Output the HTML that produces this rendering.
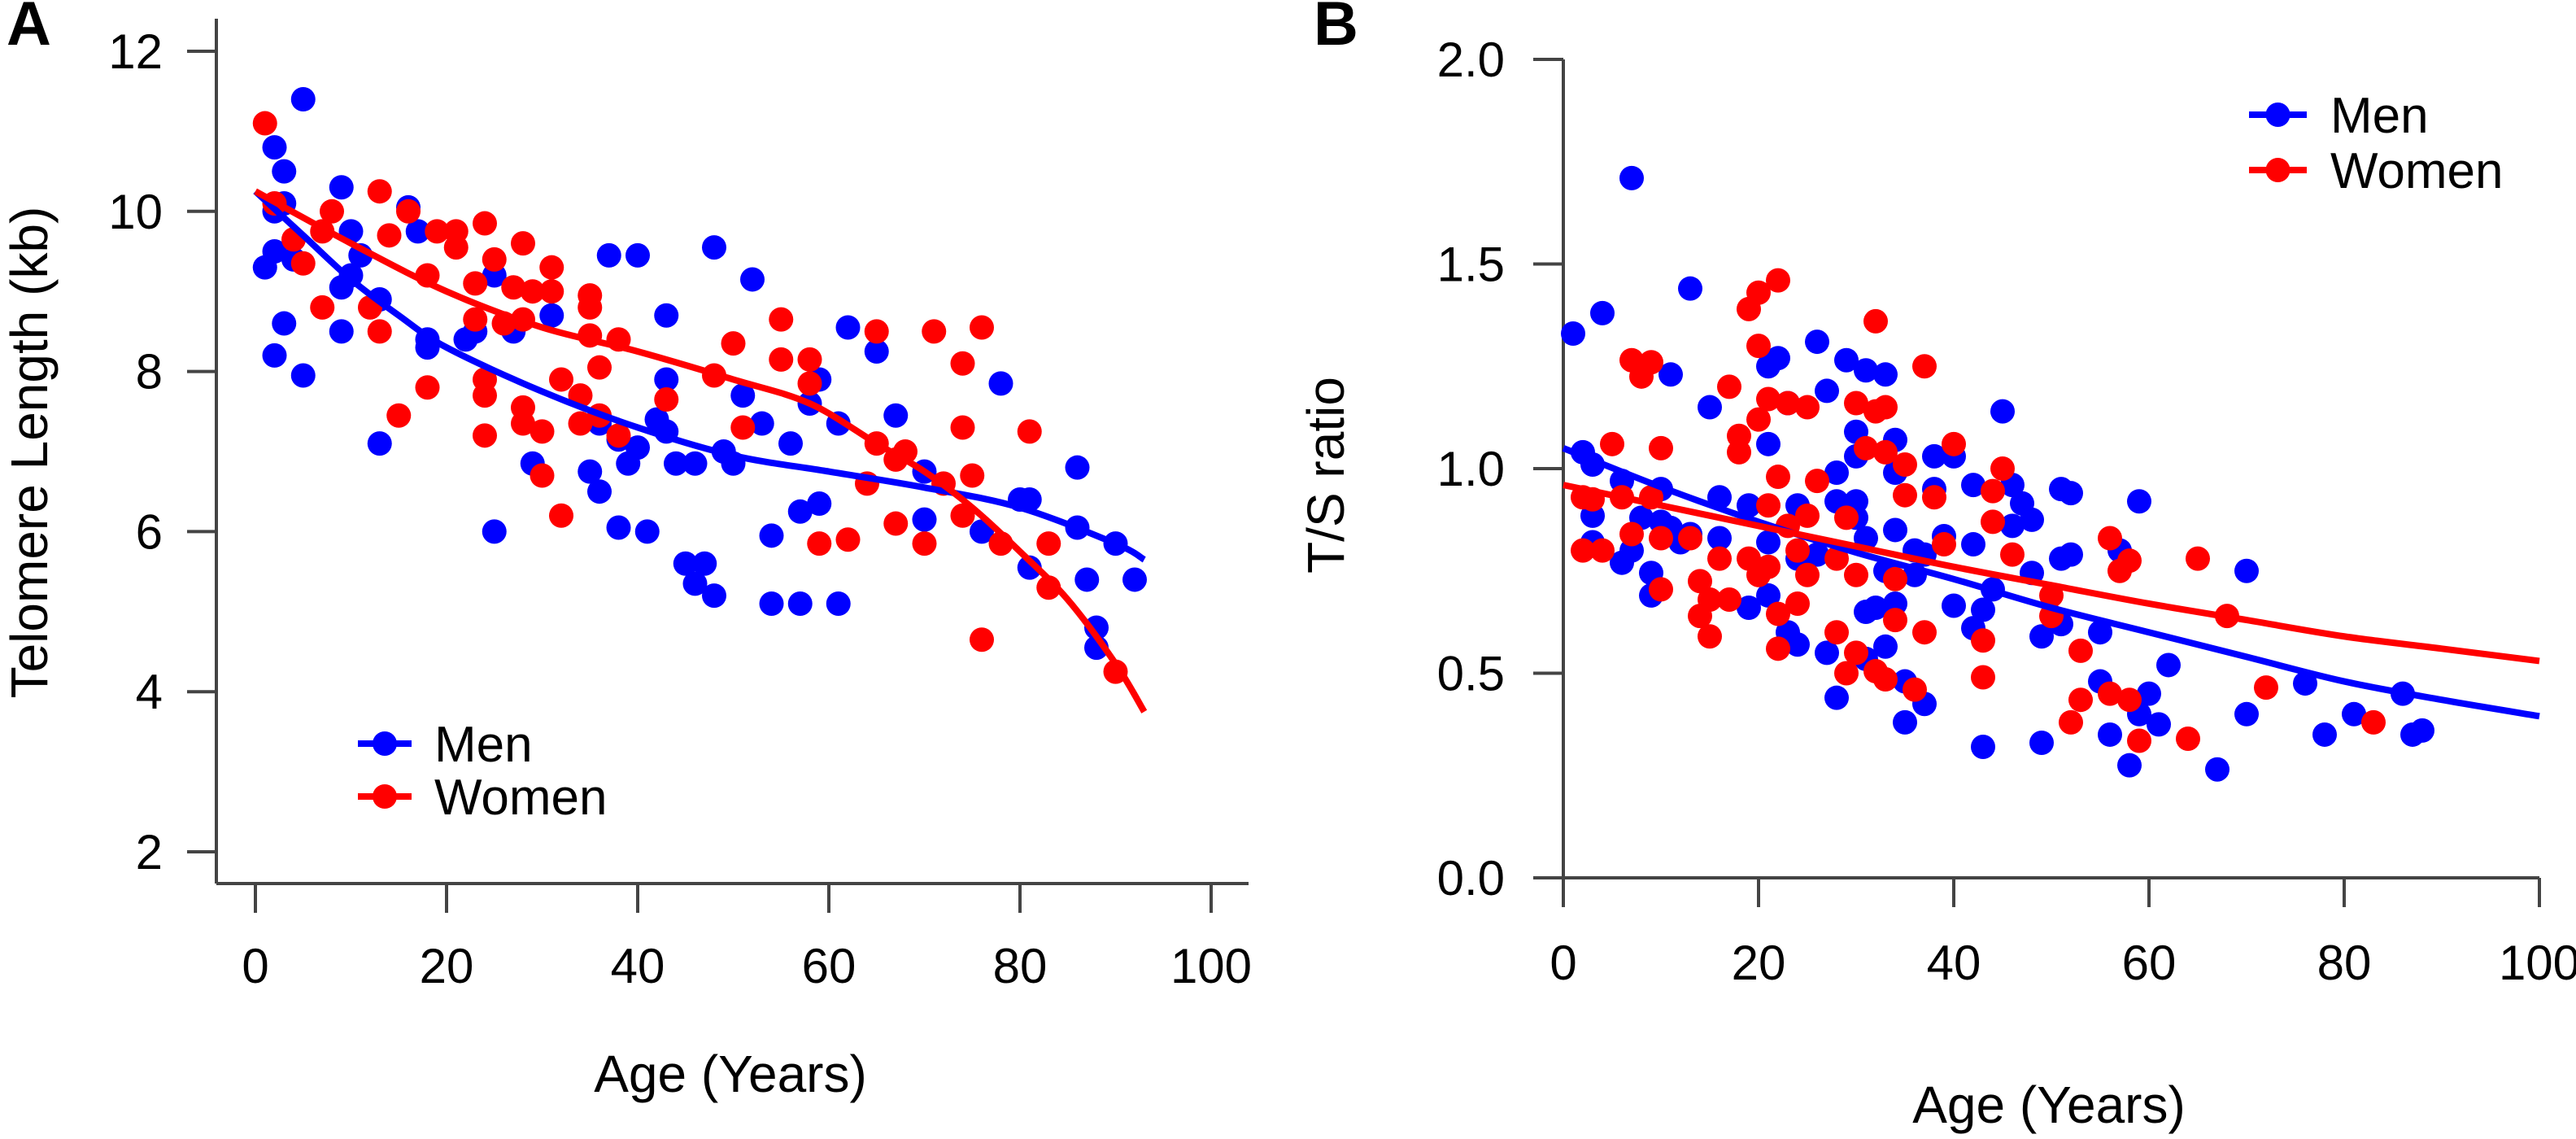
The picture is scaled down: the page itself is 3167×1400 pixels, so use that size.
<!DOCTYPE html>
<html><head><meta charset="utf-8"><style>
html,body{margin:0;padding:0;background:#fff;}
svg{display:block;font-family:"Liberation Sans",Arial,sans-serif;}
</style></head><body>
<svg id="fig" width="3167" height="1400" viewBox="0 0 3167 1400" xmlns="http://www.w3.org/2000/svg">
<rect width="3167" height="1400" fill="#fff"/>
<g id="panelA"></g>
<g id="panelB"></g>
</svg>
<script>
// ---- Panel A data ----
const aXTicks = [0,20,40,60,80,100];
const aYTicks = [2,4,6,8,10,12];
const aMenAge = [1,2,2,2,2,3,3,3,4,5,5,9,9,9,10,11,10,13,13,16,17,18,18,22,23,25,25,27,29,31,35,36,36,37,38,38,39,40,40,41,42,43,43,43,44,45,46,46,47,48,48,49,50,51,52,53,54,54,56,57,57,58,59,59,61,61,62,65,67,70,70,76,78,80,81,81,86,86,87,88,88,90,92];
const aMenTL = [9.3,8.2,10.0,9.5,10.8,10.5,10.1,8.6,9.4,11.4,7.95,10.3,9.05,8.5,9.75,9.45,9.2,7.1,8.9,10.05,9.75,8.4,8.3,8.4,8.5,6.0,9.2,8.5,6.85,8.7,6.75,6.5,7.35,9.45,6.05,7.15,6.85,9.45,7.05,6.0,7.4,7.25,8.7,7.9,6.85,5.6,5.35,6.85,5.6,9.55,5.2,7.0,6.85,7.7,9.15,7.35,5.95,5.1,7.1,6.25,5.1,7.6,6.35,7.9,7.35,5.1,8.55,8.25,7.45,6.75,6.15,6.0,7.85,6.4,6.4,5.55,6.8,6.05,5.4,4.8,4.55,5.85,5.4];
const aWomenAge = [1,2,4,5,7,7,8,12,13,13,14,15,16,18,18,19,21,21,23,23,24,24,24,24,25,26,27,28,28,28,28,29,30,30,31,31,32,32,34,34,35,35,35,36,36,38,38,43,48,50,51,55,55,58,58,59,62,64,65,65,67,67,68,70,71,72,74,74,74,75,76,76,78,81,83,83,90];
const aWomenTL = [11.1,10.1,9.65,9.35,8.8,9.75,10.0,8.8,10.25,8.5,9.7,7.45,10.0,9.2,7.8,9.75,9.75,9.55,9.1,8.65,9.85,7.9,7.7,7.2,9.4,8.6,9.05,9.6,8.65,7.55,7.35,9.0,7.25,6.7,9.3,9.0,7.9,6.2,7.7,7.35,8.95,8.8,8.45,8.05,7.45,8.4,7.2,7.65,7.95,8.35,7.3,8.65,8.15,8.15,7.85,5.85,5.9,6.6,8.5,7.1,6.9,6.1,7.0,5.85,8.5,6.6,8.1,7.3,6.2,6.7,8.55,4.65,5.85,7.25,5.85,5.3,4.25];
const aMenFitAge = [0,5,10,15,20,30,40,50,60,70,80,90,93];
const aMenFitTL = [10.25,9.7,9.15,8.7,8.3,7.75,7.3,6.95,6.75,6.55,6.3,5.85,5.65];
const aWomenFitAge = [0,10,20,30,40,50,58,65,70,75,80,85,90,93];
const aWomenFitTL = [10.25,9.6,9.0,8.55,8.25,7.9,7.6,7.1,6.75,6.3,5.75,5.15,4.35,3.75];

// ---- Panel B data ----
const bXTicks = [0,20,40,60,80,100];
const bYTicks = [0.0,0.5,1.0,1.5,2.0];
const bMenAge = [1,2,3,3,3,4,6,6,7,7,8,9,9,10,10,11,11,12,13,13,15,16,16,19,19,21,21,21,21,22,23,23,24,24,24,26,26,27,27,28,28,28,29,30,30,30,30,31,31,31,31,32,33,33,33,34,34,34,34,35,35,36,36,37,37,38,38,39,40,40,42,42,42,43,43,44,45,46,46,47,48,48,49,49,51,51,51,52,52,55,55,56,57,58,59,59,60,61,62,67,70,70,76,78,81,86,87,88];
const bMenTS = [1.33,1.04,1.01,0.885,0.82,1.38,0.77,0.97,1.71,0.8,0.88,0.745,0.69,0.95,0.87,1.23,0.855,0.82,1.44,0.84,1.15,0.93,0.83,0.91,0.66,1.06,1.25,0.82,0.69,1.27,1.16,0.6,0.91,0.78,0.57,1.31,0.79,1.19,0.55,0.99,0.92,0.44,1.265,1.09,1.03,0.92,0.88,1.24,0.83,0.65,0.535,0.66,1.23,0.565,0.75,1.07,0.99,0.85,0.67,0.48,0.38,0.8,0.74,0.425,0.79,1.03,0.95,0.835,1.03,0.665,0.96,0.815,0.61,0.32,0.655,0.705,1.14,0.96,0.86,0.915,0.875,0.745,0.59,0.33,0.95,0.78,0.62,0.94,0.79,0.6,0.48,0.35,0.8,0.275,0.92,0.4,0.45,0.375,0.52,0.265,0.4,0.75,0.475,0.35,0.4,0.45,0.35,0.36];
const bWomenAge = [2,2,3,4,5,6,7,7,8,9,9,10,10,10,13,14,14,15,15,16,17,17,18,18,19,19,20,20,20,20,21,21,21,22,22,22,22,23,23,24,24,25,25,25,26,28,28,29,29,30,30,30,31,32,32,32,33,33,33,34,34,35,35,36,37,37,38,39,40,43,43,44,44,45,46,50,50,52,53,53,56,56,57,58,58,59,64,65,68,72,83];
const bWomenTS = [0.8,0.93,0.925,0.8,1.06,0.93,1.265,0.84,1.225,1.26,0.93,1.05,0.705,0.83,0.83,0.725,0.64,0.59,0.68,0.78,1.2,0.68,1.08,1.04,1.39,0.78,1.43,1.3,1.12,0.74,1.17,0.91,0.76,1.46,0.98,0.56,0.645,1.16,0.86,0.67,0.8,1.15,0.74,0.885,0.97,0.78,0.6,0.5,0.88,0.55,1.16,0.74,1.05,1.36,1.14,0.505,1.15,0.485,1.04,0.73,0.63,0.935,1.01,0.46,1.25,0.6,0.93,0.815,1.06,0.58,0.49,0.945,0.87,1.0,0.79,0.69,0.64,0.38,0.435,0.555,0.83,0.45,0.75,0.775,0.435,0.335,0.34,0.78,0.64,0.465,0.38];
const bMenFitAge = [0,10,20,30,40,50,60,70,80,90,100];
const bMenFitTS = [1.05,0.955,0.87,0.795,0.73,0.66,0.6,0.54,0.48,0.435,0.395];
const bWomenFitAge = [0,10,20,30,40,50,60,70,80,90,100];
const bWomenFitTS = [0.96,0.91,0.86,0.81,0.76,0.715,0.67,0.63,0.59,0.56,0.53];

const NS = 'http://www.w3.org/2000/svg';
const BLUE = '#0000ff', RED = '#ff0000', AX = '#444';
function mk(parent, tag, attrs) {
  const e = document.createElementNS(NS, tag);
  for (const k in attrs) e.setAttribute(k, attrs[k]);
  parent.appendChild(e);
  return e;
}
function txt(parent, x, y, s, size, anchor, extra) {
  const t = mk(parent, 'text', {x: x, y: y, 'font-size': size, 'text-anchor': anchor, fill: '#000'});
  if (extra) for (const k in extra) t.setAttribute(k, extra[k]);
  t.textContent = s;
  return t;
}

// scales
const axA = v => 314 + (v - 0) * (1489 - 314) / 100;
const ayA = v => 63 + (12 - v) * (1047 - 63) / 10;
const axB = v => 1922 + v * (3122 - 1922) / 100;
const ayB = v => 1079 - v * (1079 - 73) / 2;

function drawPanel(g, sx, sy, xt, yt, xFmt, yFmt, axis) {
  // axes
  const ya = mk(g, 'line', {x1: axis.yx, y1: axis.yTop, x2: axis.yx, y2: axis.yBot, stroke: AX, 'stroke-width': 4});
  
  
  const xa = mk(g, 'line', {x1: axis.xL, y1: axis.xy, x2: axis.xR, y2: axis.xy, stroke: AX, 'stroke-width': 4});
  
  
  xt.forEach(v => {
    const x = sx(v);
    const tk = mk(g, 'line', {x1: x, y1: axis.xTickY0, x2: x, y2: axis.xTickY1, stroke: AX, 'stroke-width': 4});
    
    
    const l = txt(g, x, axis.xLabY, xFmt(v), 60, 'middle');
    
    
  });
  yt.forEach(v => {
    const y = sy(v);
    const tk = mk(g, 'line', {x1: axis.yTickX0, y1: y, x2: axis.yTickX1, y2: y, stroke: AX, 'stroke-width': 4});
    
    
    const l = txt(g, axis.yLabX, y + 21, yFmt(v), 60, 'end');
    
    
  });
}
function dots(g, sx, sy, xs, ys, col, name) {
  xs.forEach((a, i) => {
    const c = mk(g, 'circle', {cx: sx(a), cy: sy(ys[i]), r: 15, fill: col});
    
    
  });
}
function curve(g, sx, sy, xs, ys, col, name) {
  // Catmull-Rom smooth path
  const P = xs.map((a, i) => [sx(a), sy(ys[i])]);
  let d = 'M' + P[0][0] + ' ' + P[0][1];
  for (let i = 0; i < P.length - 1; i++) {
    const p0 = P[Math.max(0, i - 1)], p1 = P[i], p2 = P[i + 1], p3 = P[Math.min(P.length - 1, i + 2)];
    const c1x = p1[0] + (p2[0] - p0[0]) / 6, c1y = p1[1] + (p2[1] - p0[1]) / 6;
    const c2x = p2[0] - (p3[0] - p1[0]) / 6, c2y = p2[1] - (p3[1] - p1[1]) / 6;
    d += ' C' + c1x + ' ' + c1y + ' ' + c2x + ' ' + c2y + ' ' + p2[0] + ' ' + p2[1];
  }
  const p = mk(g, 'path', {d: d, fill: 'none', stroke: col, 'stroke-width': 8});
  
  
}
function legend(g, x0, x1, yMen, yWomen, tx) {
  [[yMen, BLUE, 'Men', 'legend-entry-men'], [yWomen, RED, 'Women', 'legend-entry-women']].forEach(r => {
    const lg = mk(g, 'g', {});
    
    
    mk(lg, 'line', {x1: x0, y1: r[0], x2: x1, y2: r[0], stroke: r[1], 'stroke-width': 8});
    mk(lg, 'circle', {cx: (x0 + x1) / 2, cy: r[0], r: 15, fill: r[1]});
    txt(lg, tx, r[0] + 22, r[2], 62, 'start');
  });
}

// Panel A
const gA = document.getElementById('panelA');
drawPanel(gA, axA, ayA, aXTicks, aYTicks, v => String(v), v => String(v),
  {yx: 266, yTop: 23, yBot: 1086, xL: 266, xR: 1535, xy: 1086, xTickY0: 1086, xTickY1: 1122, xLabY: 1208,
   yTickX0: 230, yTickX1: 266, yLabX: 200});
dots(gA, axA, ayA, aMenAge, aMenTL, BLUE, 'men-point');
dots(gA, axA, ayA, aWomenAge, aWomenTL, RED, 'women-point');
curve(gA, axA, ayA, aMenFitAge, aMenFitTL, BLUE, 'men-fit-line');
curve(gA, axA, ayA, aWomenFitAge, aWomenFitTL, RED, 'women-fit-line');
legend(gA, 440, 506, 914, 979, 534);
let t;
t = txt(gA, 898, 1342, 'Age (Years)', 64, 'middle');


t = txt(gA, 0, 0, 'Telomere Length (kb)', 64, 'middle', {transform: 'translate(58,556) rotate(-90)'});


t = txt(gA, 8, 55, 'A', 76, 'start', {'font-weight': 'bold'});



// Panel B
const gB = document.getElementById('panelB');
drawPanel(gB, axB, ayB, bXTicks, bYTicks, v => String(v), v => v.toFixed(1),
  {yx: 1922, yTop: 73, yBot: 1079, xL: 1922, xR: 3122, xy: 1079, xTickY0: 1079, xTickY1: 1115, xLabY: 1204,
   yTickX0: 1885, yTickX1: 1922, yLabX: 1850});
dots(gB, axB, ayB, bMenAge, bMenTS, BLUE, 'men-point');
dots(gB, axB, ayB, bWomenAge, bWomenTS, RED, 'women-point');
curve(gB, axB, ayB, bMenFitAge, bMenFitTS, BLUE, 'men-fit-line');
curve(gB, axB, ayB, bWomenFitAge, bWomenFitTS, RED, 'women-fit-line');
legend(gB, 2765, 2836, 141, 209, 2865);
t = txt(gB, 2519, 1380, 'Age (Years)', 64, 'middle');


t = txt(gB, 0, 0, 'T/S ratio', 64, 'middle', {transform: 'translate(1652,584) rotate(-90)'});


t = txt(gB, 1615, 55, 'B', 76, 'start', {'font-weight': 'bold'});


</script>
</body></html>
